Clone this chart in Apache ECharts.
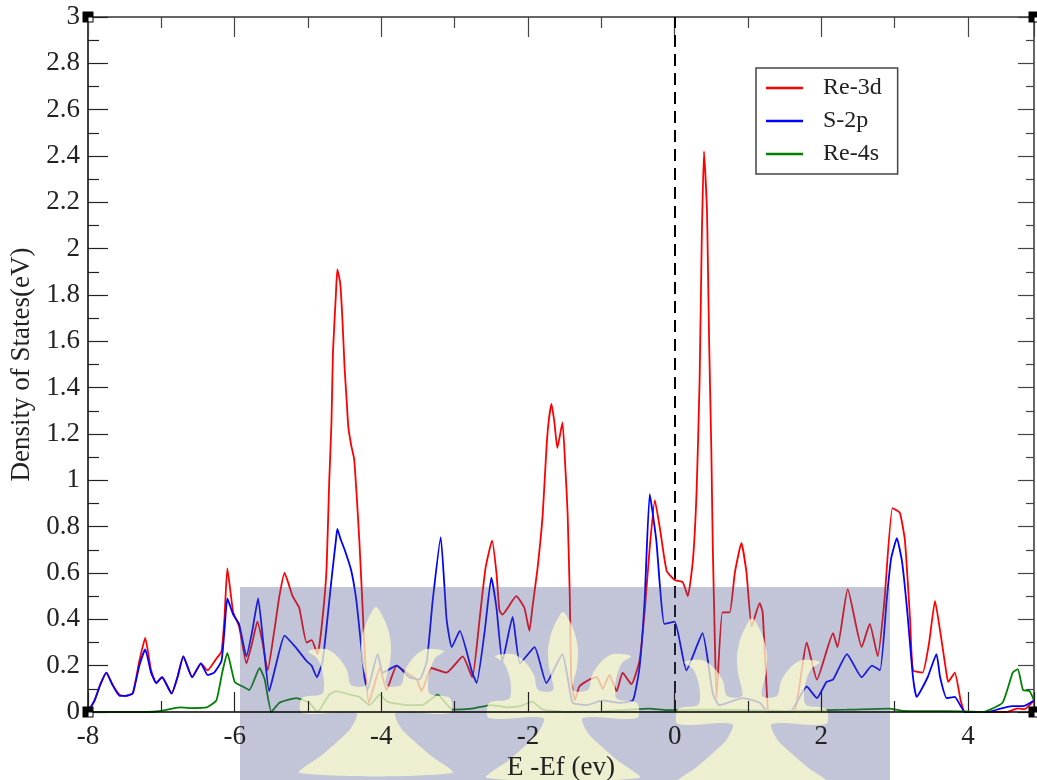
<!DOCTYPE html>
<html>
<head>
<meta charset="utf-8">
<script src="https://cdn.jsdelivr.net/npm/echarts@6/dist/echarts.min.js"></script>
<style>
    html, body { margin: 0; padding: 0; background: #fff; }
    #dos-chart { width: 1037px; height: 780px; }
</style>
</head>
<body>
<div id="dos-chart"></div>
<script>
// projected DOS as [E - Ef, states]
var re3d = [
    [-8.0,0],[-7.91,0.05],[-7.83,0.12],[-7.75,0.17],[-7.67,0.12],[-7.57,0.075],[-7.48,0.07],[-7.39,0.08],
    [-7.3,0.22],[-7.22,0.32],[-7.14,0.18],[-7.07,0.125],[-6.99,0.15],[-6.86,0.08],[-6.78,0.15],[-6.7,0.24],
    [-6.58,0.15],[-6.46,0.21],[-6.37,0.18],[-6.25,0.23],[-6.18,0.26],[-6.14,0.4],[-6.1,0.62],[-6.02,0.43],
    [-5.94,0.37],[-5.84,0.21],[-5.76,0.3],[-5.69,0.39],[-5.62,0.3],[-5.55,0.18],[-5.46,0.35],[-5.39,0.5],
    [-5.32,0.6],[-5.21,0.5],[-5.12,0.45],[-5.02,0.3],[-4.95,0.31],[-4.87,0.25],[-4.82,0.35],[-4.75,0.6],
    [-4.71,1.0],[-4.68,1.25],[-4.66,1.55],[-4.62,1.8],[-4.6,1.91],[-4.56,1.85],[-4.53,1.69],[-4.5,1.48],
    [-4.47,1.33],[-4.45,1.23],[-4.41,1.15],[-4.37,1.09],[-4.3,0.74],[-4.26,0.48],[-4.22,0.22],[-4.17,0.04],
    [-4.02,0.19],[-3.93,0.095],[-3.79,0.2],[-3.66,0.17],[-3.52,0.14],[-3.45,0.09],[-3.32,0.19],[-3.11,0.17],
    [-2.89,0.24],[-2.76,0.15],[-2.66,0.4],[-2.58,0.62],[-2.49,0.74],[-2.43,0.6],[-2.39,0.44],[-2.35,0.42],
    [-2.16,0.5],[-2.05,0.45],[-1.98,0.35],[-1.94,0.45],[-1.87,0.62],[-1.8,0.85],[-1.75,1.13],[-1.72,1.25],
    [-1.68,1.33],[-1.64,1.25],[-1.6,1.14],[-1.53,1.25],[-1.49,1.05],[-1.46,0.86],[-1.43,0.5],[-1.41,0.14],
    [-1.36,0.05],[-1.3,0.11],[-1.16,0.14],[-1.06,0.15],[-0.98,0.1],[-0.89,0.16],[-0.79,0.09],[-0.71,0.17],
    [-0.59,0.12],[-0.48,0.22],[-0.41,0.43],[-0.34,0.71],[-0.27,0.915],[-0.2,0.79],[-0.11,0.61],[0,0.57],
    [0.11,0.56],[0.18,0.5],[0.25,0.66],[0.3,0.96],[0.34,1.43],[0.37,2.05],[0.4,2.42],[0.44,2.17],
    [0.45,2.0],[0.47,1.6],[0.5,1.13],[0.52,0.71],[0.55,0.28],[0.57,0.06],[0.65,0.43],[0.75,0.43],
    [0.82,0.6],[0.91,0.73],[0.98,0.6],[1.05,0.37],[1.16,0.47],[1.2,0.43],[1.27,0.01],[1.3,0],
    [1.62,0],[1.8,0.3],[1.94,0.14],[2.16,0.34],[2.22,0.28],[2.36,0.53],[2.55,0.28],[2.66,0.38],
    [2.77,0.24],[2.86,0.48],[2.97,0.88],[3.07,0.86],[3.14,0.74],[3.21,0.4],[3.25,0.18],[3.38,0.17],
    [3.47,0.3],[3.55,0.48],[3.62,0.35],[3.7,0.18],[3.73,0.13],[3.82,0.17],[3.9,0.05],[3.96,0],
    [4.53,0],[4.68,0.016],[4.77,0.012],[4.9,0.05]
];
var s2p = [
    [-8.0,0],[-7.91,0.05],[-7.83,0.12],[-7.75,0.17],[-7.67,0.12],[-7.57,0.07],[-7.48,0.07],[-7.39,0.08],
    [-7.3,0.2],[-7.22,0.27],[-7.14,0.17],[-7.07,0.125],[-6.99,0.15],[-6.86,0.08],[-6.78,0.15],[-6.7,0.24],
    [-6.58,0.15],[-6.46,0.21],[-6.37,0.16],[-6.28,0.17],[-6.18,0.22],[-6.14,0.35],[-6.1,0.49],[-6.02,0.42],
    [-5.94,0.38],[-5.84,0.24],[-5.76,0.35],[-5.68,0.49],[-5.61,0.3],[-5.53,0.09],[-5.44,0.2],[-5.32,0.33],
    [-5.17,0.28],[-5.02,0.22],[-4.95,0.2],[-4.88,0.15],[-4.8,0.22],[-4.67,0.6],[-4.62,0.74],[-4.6,0.79],
    [-4.56,0.75],[-4.5,0.7],[-4.41,0.61],[-4.34,0.48],[-4.28,0.3],[-4.23,0.15],[-4.19,0.095],[-4.05,0.25],
    [-3.98,0.17],[-3.79,0.2],[-3.62,0.15],[-3.48,0.14],[-3.38,0.22],[-3.3,0.48],[-3.19,0.755],[-3.11,0.4],
    [-3.04,0.28],[-2.93,0.35],[-2.76,0.17],[-2.7,0.125],[-2.59,0.35],[-2.5,0.58],[-2.43,0.45],[-2.35,0.22],
    [-2.21,0.41],[-2.11,0.21],[-1.91,0.28],[-1.75,0.125],[-1.53,0.25],[-1.46,0.15],[-1.39,0.04],[-1.2,0.03],
    [-0.98,0.05],[-0.75,0.04],[-0.57,0.05],[-0.48,0.19],[-0.41,0.48],[-0.34,0.94],[-0.25,0.74],[-0.2,0.54],
    [-0.14,0.38],[0,0.39],[0.16,0.18],[0.38,0.34],[0.52,0.08],[0.61,0.03],[0.93,0.06],[1.16,0.04],
    [1.27,0],[1.57,0],[1.8,0.11],[1.94,0.06],[2.07,0.13],[2.16,0.14],[2.35,0.25],[2.55,0.15],
    [2.69,0.2],[2.8,0.18],[2.89,0.48],[2.95,0.66],[3.03,0.75],[3.1,0.65],[3.17,0.44],[3.25,0.15],
    [3.3,0.065],[3.45,0.15],[3.57,0.25],[3.62,0.15],[3.71,0.06],[3.82,0.065],[3.96,0],[4.26,0],
    [4.43,0.013],[4.6,0.025],[4.75,0.025],[4.9,0.05]
];
var re4s = [
    [-8,0],[-7.2,0],[-7.0,0.005],[-6.75,0.02],[-6.62,0.017],[-6.38,0.02],[-6.25,0.05],[-6.17,0.17],
    [-6.1,0.255],[-6.0,0.13],[-5.89,0.11],[-5.8,0.095],[-5.66,0.19],[-5.59,0.14],[-5.5,0],[-5.39,0.04],
    [-5.16,0.06],[-4.98,0.04],[-4.87,0],[-4.71,0.075],[-4.61,0.09],[-4.43,0.075],[-4.3,0.065],[-4.16,0.03],
    [-4.02,0.075],[-3.92,0.045],[-3.66,0.03],[-3.44,0.03],[-3.23,0.075],[-3.14,0.045],[-3.03,0.01],[-2.76,0.015],
    [-2.5,0.03],[-2.29,0.02],[-2.11,0.025],[-1.94,0.045],[-1.8,0.01],[-1.47,0],[-1.02,0.003],[-0.34,0.015],
    [-0.11,0.008],[0.5,0.01],[1.5,0.005],[2.35,0.01],[2.93,0.015],[3.1,0.005],[3.96,0.003],[4.2,0],
    [4.47,0.04],[4.61,0.17],[4.68,0.185],[4.75,0.095],[4.84,0.09],[4.9,0.05]
];
var seriesNames = ['Re-3d', 'S-2p', 'Re-4s'];
var seriesColors = ['#ff0000', '#0000ff', '#008000'];
var xRange = [-8, 4.9], xStep = 2;
var yRange = [0, 3], yStep = 0.2;
var fermiLevel = 0;

var dosChart = echarts.init(document.getElementById('dos-chart'));

var serif = 'Liberation Serif';
var plotLeft = 88, plotTop = 17, plotRight = 1034, plotBottom = 712;

// xmgrace style corner markers
var corners = [];
[[plotLeft, plotTop], [plotLeft, plotBottom], [plotRight, plotTop], [plotRight, plotBottom]].forEach(function (c) {
    corners.push({ type: 'rect', z: 160, shape: { x: c[0] - 5.5, y: c[1] - 5.5, width: 11, height: 11 }, style: { fill: '#000' } });
    corners.push({ type: 'rect', z: 161, shape: { x: c[0] + 0.5, y: c[1] + 0.5, width: 4, height: 4 }, style: { fill: '#fff' } });
});

// faint logo watermark across the lower part (half outline, mirrored)
var fleurHalf = [[0,0],[7,10],[12,22],[15,38],[14,55],[10,78],[25,78],[29,63],[38,50],[50,42],[68,44],
    [59,51],[54,63],[52,76],[54,87],[74,91],[74,106],[20,106],[25,121],[38,134],[54,148],[76,166]];
function fleurAt(cx, top) {
    var pts = [];
    fleurHalf.forEach(function (p) { pts.push([cx + p[0], top + p[1]]); });
    for (var i = fleurHalf.length - 1; i > 0; i--) {
        pts.push([cx - fleurHalf[i][0], top + fleurHalf[i][1]]);
    }
    return pts;
}
var watermark = [
    { type: 'rect', z: 100, silent: true, shape: { x: 240, y: 587, width: 650, height: 193 },
      style: { fill: 'rgba(80,85,140,0.35)' } }
];
[[376, 607], [563, 612], [752, 618]].forEach(function (p) {
    watermark.push({ type: 'polygon', z: 101, silent: true,
        shape: { points: fleurAt(p[0], p[1]), smooth: 0.3 },
        style: { fill: 'rgba(255,255,205,0.72)' } });
});

function lineSeries(idx, data) {
    return {
        name: seriesNames[idx],
        type: 'line',
        data: data,
        symbol: 'none',
        smooth: 0.15,
        color: seriesColors[idx],
        lineStyle: { width: 1.8, color: seriesColors[idx] }
    };
}

var dosOption = {
    animation: false,
    backgroundColor: '#fff',
    grid: {
        left: plotLeft, top: plotTop, right: 1037 - plotRight, bottom: 780 - plotBottom,
        containLabel: false,
        outerBoundsMode: 'none'
    },
    legend: {
        orient: 'vertical',
        left: 756,
        top: 68,
        padding: [8, 16, 8, 10],
        icon: 'rect',
        itemWidth: 37,
        itemHeight: 2.5,
        itemGap: 9,
        backgroundColor: '#fff',
        borderColor: '#444',
        borderWidth: 1.5,
        borderRadius: 0,
        textStyle: { fontFamily: serif, fontSize: 24, color: '#222', padding: [0, 0, 0, 15] },
        data: seriesNames
    },
    xAxis: [
        {
            type: 'value',
            z: 150,
            min: xRange[0], max: xRange[1], interval: xStep,
            name: 'E -Ef (ev)',
            nameLocation: 'middle',
            nameGap: 40,
            nameTextStyle: { fontFamily: serif, fontSize: 27, color: '#222' },
            axisLine: { onZero: false, lineStyle: { color: '#000', width: 1.5 } },
            axisTick: { inside: true, length: 20, lineStyle: { color: '#222', width: 1.2 } },
            minorTick: { show: true, splitNumber: 2, length: 11, lineStyle: { color: '#222', width: 1.2 } },
            axisLabel: {
                margin: 11,
                fontFamily: serif, fontSize: 27, color: '#222',
                formatter: function (v) { return Math.abs(v % xStep) < 1e-6 ? String(v) : ''; }
            },
            splitLine: { show: false }
        },
        {
            type: 'value', position: 'top',
            min: xRange[0], max: xRange[1], interval: xStep,
            axisLine: { onZero: false, lineStyle: { color: '#333', width: 1.5 } },
            axisTick: { inside: true, length: 20, lineStyle: { color: '#444', width: 1.2 } },
            minorTick: { show: true, splitNumber: 2, length: 11, lineStyle: { color: '#444', width: 1.2 } },
            axisLabel: { show: false },
            splitLine: { show: false }
        }
    ],
    yAxis: [
        {
            type: 'value',
            min: yRange[0], max: yRange[1], interval: yStep,
            name: 'Density of States(eV)',
            nameLocation: 'middle',
            nameGap: 52,
            nameTextStyle: { fontFamily: serif, fontSize: 27, color: '#222' },
            axisLine: { onZero: false, lineStyle: { color: '#000', width: 1.5 } },
            axisTick: { inside: true, length: 20, lineStyle: { color: '#222', width: 1.2 } },
            minorTick: { show: true, splitNumber: 2, length: 11, lineStyle: { color: '#222', width: 1.2 } },
            axisLabel: { margin: 8, fontFamily: serif, fontSize: 27, color: '#222' },
            splitLine: { show: false }
        },
        {
            type: 'value', position: 'right',
            min: yRange[0], max: yRange[1], interval: yStep,
            axisLine: { show: true, onZero: false, lineStyle: { color: '#333', width: 1.5 } },
            axisTick: { show: true, inside: true, length: 16, lineStyle: { color: '#444', width: 1.2 } },
            minorTick: { show: true, splitNumber: 2, length: 8, lineStyle: { color: '#444', width: 1.2 } },
            axisLabel: { show: false },
            splitLine: { show: false }
        }
    ],
    series: [
        lineSeries(0, re3d),
        lineSeries(1, s2p),
        (function () {
            var s = lineSeries(2, re4s);
            s.markLine = {
                silent: true,
                symbol: 'none',
                label: { show: false },
                lineStyle: { color: '#000', type: [12, 7], width: 2 },
                data: [{ xAxis: fermiLevel }]
            };
            return s;
        })()
    ],
    graphic: watermark.concat(corners)
};

dosChart.setOption(dosOption);
</script>
</body>
</html>
